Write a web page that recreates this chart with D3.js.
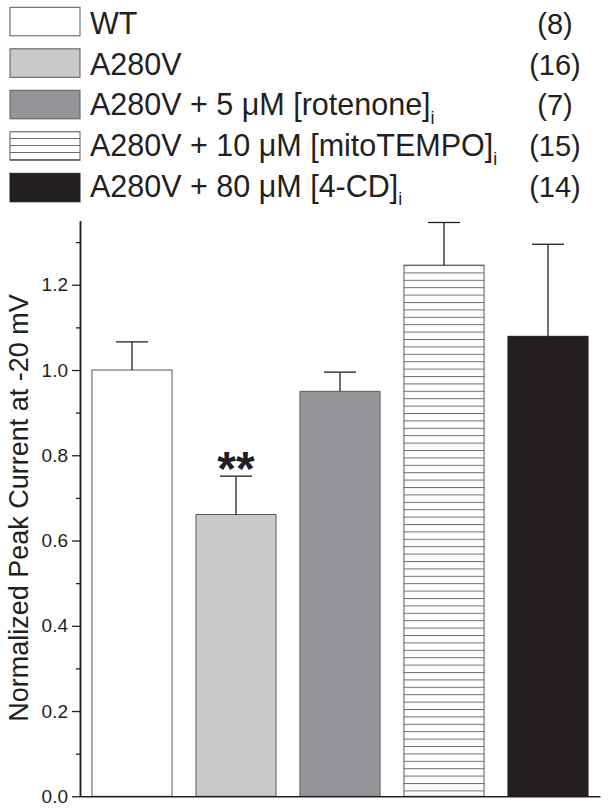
<!DOCTYPE html>
<html>
<head>
<meta charset="utf-8">
<script src="https://cdn.jsdelivr.net/npm/d3@7"></script>
<style>
  html, body { margin: 0; padding: 0; background: #fff; }
  svg { display: block; }
  text { font-family: "Liberation Sans", Arial, sans-serif; fill: #231f20; }
</style>
</head>
<body>
<svg id="chart" width="612" height="811"></svg>
<script>
// ---- data ----
const categories = ["WT", "A280V", "A280V + 5 μM [rotenone]", "A280V + 10 μM [mitoTEMPO]", "A280V + 80 μM [4-CD]"];
const subscripts = ["", "", "i", "i", "i"];
const counts = ["(8)", "(16)", "(7)", "(15)", "(14)"];
const means = [1.0, 0.661, 0.950, 1.246, 1.079];
const errors = [0.066, 0.090, 0.045, 0.100, 0.216];
const significance = ["", "**", "", "", ""];
const majorTicks = [0.0, 0.2, 0.4, 0.6, 0.8, 1.0, 1.2];
const minorTicks = [0.1, 0.3, 0.5, 0.7, 0.9, 1.1, 1.3];
const yLabel = "Normalized Peak Current at -20 mV";

// ---- styles ----
const fills = ["#ffffff", "#c8c9cb", "#949598", "url(#hatch)", "#231f20"];
const legendFills = ["#ffffff", "#c8c9cb", "#949598", "url(#hatchLegend)", "#231f20"];
const ink = "#231f20";

const svg = d3.select("#chart");
const defs = svg.append("defs");
function addHatch(id, spacing, offset) {
  const p = defs.append("pattern").attr("id", id)
    .attr("patternUnits", "userSpaceOnUse")
    .attr("width", 10).attr("height", spacing)
    .attr("y", offset);
  p.append("rect").attr("width", 10).attr("height", spacing).attr("fill", "#fff");
  p.append("line").attr("x1", 0).attr("x2", 10).attr("y1", 0.5).attr("y2", 0.5)
    .attr("stroke", "#6d6e71").attr("stroke-width", 1);
}
addHatch("hatch", 7.4, 265);
addHatch("hatchLegend", 7, 131);

// ---- scales ----
const x = d3.scaleBand().domain(categories).range([80, 600]).paddingInner(0.23).paddingOuter(0.115);
const y = d3.scaleLinear().domain([0, 1.35]).range([796.3, 220.8]);

// ---- bars ----
const data = categories.map((c, i) => ({c, m: means[i], e: errors[i], f: fills[i], s: significance[i]}));
const g = svg.append("g");
g.selectAll("rect.bar").data(data).join("rect")
  .attr("class", "bar")
  .attr("x", d => x(d.c))
  .attr("width", x.bandwidth())
  .attr("y", d => y(d.m))
  .attr("height", d => y(0) - y(d.m))
  .attr("fill", d => d.f)
  .attr("stroke", (d, i) => i === 4 ? ink : "#58595b")
  .attr("stroke-width", 1);

// error bars
const capW = 16;
g.selectAll("line.stem").data(data).join("line")
  .attr("x1", d => x(d.c) + x.bandwidth() / 2)
  .attr("x2", d => x(d.c) + x.bandwidth() / 2)
  .attr("y1", d => y(d.m))
  .attr("y2", d => y(d.m + d.e))
  .attr("stroke", ink).attr("stroke-width", 1.3);
g.selectAll("line.cap").data(data).join("line")
  .attr("x1", d => x(d.c) + x.bandwidth() / 2 - capW)
  .attr("x2", d => x(d.c) + x.bandwidth() / 2 + capW)
  .attr("y1", d => y(d.m + d.e))
  .attr("y2", d => y(d.m + d.e))
  .attr("stroke", ink).attr("stroke-width", 1.3);
g.selectAll("text.sig").data(data.filter(d => d.s)).join("text")
  .attr("x", d => x(d.c) + x.bandwidth() / 2)
  .attr("y", d => y(d.m + d.e) + 9)
  .attr("text-anchor", "middle")
  .attr("font-size", 48).attr("font-weight", "bold")
  .text(d => d.s);

// ---- axes ----
const yAxisMajor = svg.append("g").attr("transform", "translate(80,0)")
  .call(d3.axisLeft(y).tickValues(majorTicks).tickSize(8).tickSizeOuter(0).tickPadding(4)
    .tickFormat(d3.format(".1f")));
yAxisMajor.selectAll("text").attr("font-size", 19).attr("fill", ink)
  .attr("font-family", "'Liberation Sans', Arial, sans-serif");
const yAxisMinor = svg.append("g").attr("transform", "translate(80,0)")
  .call(d3.axisLeft(y).tickValues(minorTicks).tickSize(4).tickSizeOuter(0).tickFormat(""));
svg.selectAll(".domain").attr("stroke", ink).attr("stroke-width", 1.5);
svg.selectAll(".tick line").attr("stroke", ink).attr("stroke-width", 1.3);

const xAxis = svg.append("g").attr("transform", `translate(0,${y(0)})`)
  .call(d3.axisBottom(x).tickValues([]).tickSizeOuter(0));
xAxis.select(".domain").attr("stroke", ink).attr("stroke-width", 1.5);

// y label
svg.append("text")
  .attr("transform", `translate(28,508) rotate(-90)`)
  .attr("text-anchor", "middle")
  .attr("font-size", 27)
  .text(yLabel);

// ---- legend ----
const leg = svg.append("g");
const rowH = 41.5;
const rows = leg.selectAll("g.row").data(categories).join("g");
rows.append("rect")
  .attr("x", 10).attr("y", (d, i) => 7.3 + i * rowH).attr("width", 70).attr("height", 28.5)
  .attr("fill", (d, i) => legendFills[i])
  .attr("stroke", (d, i) => i === 4 ? ink : "#58595b").attr("stroke-width", 1);
const lt = rows.append("text").attr("x", 90).attr("y", (d, i) => 34 + i * 40.7).attr("font-size", 30.5);
lt.append("tspan").text(d => d);
lt.append("tspan").attr("dy", 8.5).attr("font-size", 18).text((d, i) => subscripts[i]);
rows.append("text").attr("x", 555).attr("y", (d, i) => 34 + i * 40.7).attr("text-anchor", "middle")
  .attr("font-size", 29).text((d, i) => counts[i]);
</script>
</body>
</html>
